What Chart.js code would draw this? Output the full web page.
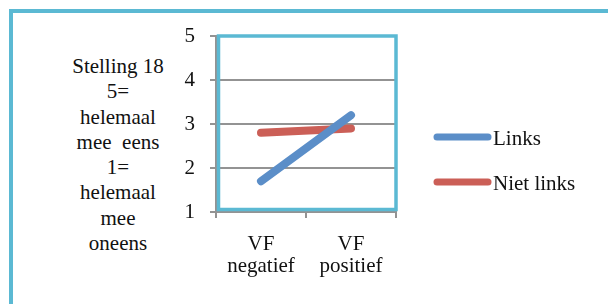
<!DOCTYPE html>
<html>
<head>
<meta charset="utf-8">
<script src="https://cdn.jsdelivr.net/npm/chart.js@4/dist/chart.umd.min.js"></script>
<style>
  html, body { margin: 0; padding: 0; background: #fff; }
  #wrap { position: relative; width: 608px; height: 304px; overflow: hidden; }
  #frame { position: absolute; left: 9px; top: 9px; right: -10px; bottom: -10px;
           border-left: 4px solid #5bb9d3; border-top: 4px solid #5bb9d3; }
  #ytitle { position: absolute; left: 58px; top: 54px; width: 120px; text-align: center;
            font-family: "Liberation Serif", serif; font-size: 21px; line-height: 25.3px;
            white-space: pre; color: #111; }
  canvas { position: absolute; left: 0; top: 0; }
</style>
</head>
<body>
<div id="wrap">
  <div id="frame"></div>
  <div id="ytitle"></div>
  <canvas id="lineChart" width="608" height="304"></canvas>
</div>
<script>
var categories = [["VF", "negatief"], ["VF", "positief"]];
var links = [1.7, 3.2];
var nietLinks = [2.8, 2.9];
var yTicks = [1, 2, 3, 4, 5];
var yTitle = ["Stelling 18", "5=", "helemaal", "mee  eens", "1=", "helemaal", "mee", "oneens"];

document.getElementById('ytitle').textContent = yTitle.join("\n");

var fontFam = '"Liberation Serif", serif';
var gray = '#939393';

// cyan border round the plot area (Excel style)
var plotBorder = {
  id: 'plotBorder',
  beforeDatasetsDraw: function(chart) {
    var a = chart.chartArea, ctx = chart.ctx;
    ctx.save();
    ctx.strokeStyle = '#5bb9d3';
    ctx.lineWidth = 3.5;
    ctx.strokeRect(a.left + 2.5, a.top, a.right - a.left - 2.5, a.bottom - a.top - 2.5);
    ctx.restore();
  }
};

// legend on the right, drawn from the datasets
var sideLegend = {
  id: 'sideLegend',
  afterDraw: function(chart) {
    var ctx = chart.ctx;
    ctx.save();
    chart.data.datasets.forEach(function(ds, i) {
      var y = 137 + i * 45;
      ctx.strokeStyle = ds.borderColor;
      ctx.lineWidth = 7;
      ctx.lineCap = 'round';
      ctx.beginPath();
      ctx.moveTo(437, y);
      ctx.lineTo(488, y);
      ctx.stroke();
      ctx.fillStyle = '#111';
      ctx.font = '21px ' + fontFam;
      ctx.textBaseline = 'middle';
      ctx.fillText(ds.label, 493, y + 2);
    });
    ctx.restore();
  }
};

var ctx = document.getElementById('lineChart');
var myChart = new Chart(ctx, {
  type: 'line',
  data: {
    labels: categories,
    datasets: [
      { label: 'Links', data: links, borderColor: '#5b8ec8', borderWidth: 8,
        borderCapStyle: 'round', pointRadius: 0, tension: 0 },
      { label: 'Niet links', data: nietLinks, borderColor: '#cb5f57', borderWidth: 8,
        borderCapStyle: 'round', pointRadius: 0, tension: 0 }
    ]
  },
  options: {
    responsive: false,
    animation: false,
    layout: { padding: { top: 36, right: 212, left: 0, bottom: 0 } },
    plugins: { legend: { display: false }, tooltip: { enabled: false } },
    scales: {
      x: {
        offset: true,
        afterFit: function(s) { s.height = 92; },
        grid: { offset: true, drawOnChartArea: false, drawTicks: true, tickLength: 6,
                color: gray, lineWidth: 2 },
        border: { color: gray, width: 2 },
        ticks: { color: '#111', padding: 15, maxRotation: 0,
                 font: { family: fontFam, size: 21, lineHeight: '22px' } }
      },
      y: {
        min: yTicks[0], max: yTicks[yTicks.length - 1],
        afterFit: function(s) { s.width = 216; },
        afterBuildTicks: function(s) { s.ticks = yTicks.map(function(v) { return { value: v }; }); },
        grid: { color: gray, lineWidth: 2, tickLength: 6 },
        border: { color: gray, width: 2 },
        ticks: { color: '#111', padding: 15,
                 font: { family: fontFam, size: 21 } }
      }
    }
  },
  plugins: [plotBorder, sideLegend]
});
</script>
</body>
</html>
